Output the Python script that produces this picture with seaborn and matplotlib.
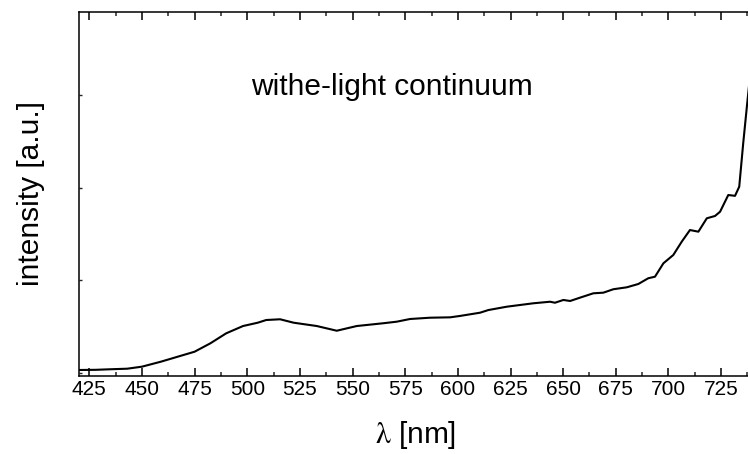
import matplotlib
matplotlib.use("Agg")
import matplotlib.pyplot as plt
from matplotlib.ticker import MultipleLocator
import pandas as pd
import seaborn as sns

# White-light continuum spectrum (arbitrary intensity units)
wavelength_nm = [420, 428, 435, 443, 450, 459, 467, 475, 482.5, 490, 498, 505,
                 509, 515.6, 522, 533, 542.5, 552, 564.6, 571, 577.3, 586.8,
                 596.3, 601, 610.5, 614.5, 623.2, 635.8, 643.8, 646.1, 650.1,
                 653.3, 658, 664.3, 669.1, 673.8, 680.2, 685.7, 690.4, 693.6,
                 697.6, 702.3, 706.3, 710.2, 714.2, 718.2, 722.1, 724.5, 728.4,
                 731.6, 733.6, 735.5, 737.4, 739.5]
intensity = [0.028, 0.030, 0.036, 0.042, 0.064, 0.118, 0.172, 0.226, 0.317,
             0.425, 0.504, 0.540, 0.569, 0.577, 0.540, 0.504, 0.453, 0.504,
             0.534, 0.551, 0.580, 0.594, 0.598, 0.613, 0.648, 0.677, 0.713,
             0.750, 0.767, 0.756, 0.786, 0.775, 0.811, 0.858, 0.865, 0.902,
             0.923, 0.959, 1.021, 1.038, 1.183, 1.273, 1.417, 1.543, 1.525,
             1.670, 1.695, 1.741, 1.922, 1.913, 2.012, 2.485, 2.918, 3.38]

x_major = [425, 450, 475, 500, 525, 550, 575, 600, 625, 650, 675, 700, 725]
y_major = [0, 1, 2, 3]

sns.set_theme(style="ticks")
plt.rcParams["font.family"] = ["Liberation Sans", "DejaVu Sans"]
plt.rcParams["mathtext.fontset"] = "stix"

df = pd.DataFrame({"wavelength": wavelength_nm, "intensity": intensity})

fig = plt.figure(figsize=(7.48, 4.54), dpi=100)
ax = fig.add_axes([0.1053, 0.1718, 0.9010, 0.8018])

sns.lineplot(data=df, x="wavelength", y="intensity", ax=ax,
             color="black", linewidth=1.5, sort=False)

ax.set_xlim(420, 740)
ax.set_ylim(-0.037, 3.903)

ax.set_xticks(x_major)
ax.xaxis.set_minor_locator(MultipleLocator(12.5))
ax.set_yticks(y_major)
ax.set_yticklabels([])

ax.tick_params(axis="x", which="major", direction="in", length=6, width=1.1,
               top=True, bottom=True, labelsize=15, pad=3, colors="black")
ax.tick_params(axis="x", which="minor", direction="in", length=3, width=1.1,
               top=True, bottom=True)
ax.tick_params(axis="y", which="major", direction="in", length=2.5, width=1.0,
               left=True, right=False)

for side in ["left", "bottom", "top", "right"]:
    ax.spines[side].set_visible(True)
    ax.spines[side].set_linewidth(1.1)
    ax.spines[side].set_color("black")

ax.set_xlabel(r"$\mathrm{\lambda}$ [nm]", fontsize=21.5, labelpad=14,
              color="black")
ax.set_ylabel("intensity [a.u.]", fontsize=21.5, color="black")
ax.yaxis.set_label_coords(-0.050, 0.5)

ax.text(502, 3.0, "withe-light continuum", fontsize=21.5, ha="left",
        va="baseline", color="black")

fig.savefig("out.png", dpi=100)
